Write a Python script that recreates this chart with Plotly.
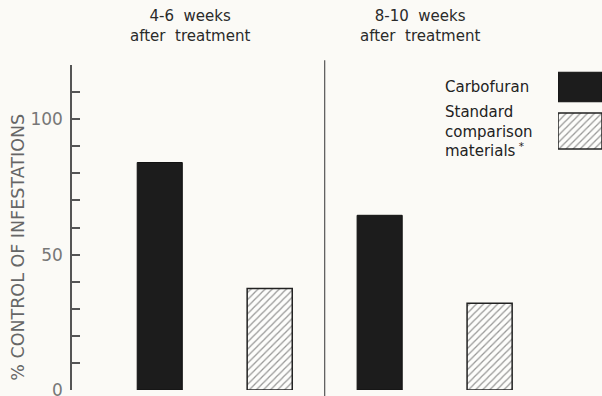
import plotly.graph_objects as go

# ---- data ----
periods = ["4-6 weeks", "8-10 weeks"]
period_titles = ["4-6\u00a0 weeks<br>after\u00a0 treatment", "8-10\u00a0 weeks<br>after\u00a0 treatment"]
carbofuran = [84, 64.5]
standard = [37.5, 32]
series_names = ["Carbofuran", "Standard comparison materials"]
legend_texts = ["Carbofuran", "Standard<br>comparison<br>materials<sup> *</sup>"]
y_tickvals = [0, 10, 20, 30, 40, 50, 60, 70, 80, 90, 100, 110, 120]
y_ticktext = ["0", " ", " ", " ", " ", "50", " ", " ", " ", " ", "100", " ", " "]
y_title = "% CONTROL OF INFESTATIONS"

BG = "#fbfaf6"
DARK = "#1c1c1c"
FONT = "DejaVu Sans"

fig = go.Figure()

bw = 0.205
fig.add_trace(go.Bar(
    x=periods, y=carbofuran, name=series_names[0],
    width=bw, offset=-0.25 - bw / 2,
    marker=dict(color=DARK, line=dict(color="#111", width=1)),
    showlegend=False, xaxis="x", yaxis="y",
))
fig.add_trace(go.Bar(
    x=periods, y=standard, name=series_names[1],
    width=bw, offset=0.25 - bw / 2,
    marker=dict(color="#fdfdfb", line=dict(color="#222", width=1.5),
                pattern=dict(shape="/", fgcolor="#333", bgcolor="#fdfdfb", size=5, solidity=0.25)),
    showlegend=False, xaxis="x", yaxis="y",
))

# legend swatches (right side, text to the left)
fig.add_trace(go.Bar(
    y=[series_names[0]], x=[1], orientation="h", width=0.67,
    marker=dict(color=DARK, line=dict(color="#111", width=1)),
    showlegend=False, xaxis="x2", yaxis="y2", hoverinfo="skip",
))
fig.add_trace(go.Bar(
    y=[series_names[1]], x=[1], orientation="h", width=0.82,
    marker=dict(color="#fdfdfb", line=dict(color="#222", width=1.5),
                pattern=dict(shape="/", fgcolor="#333", bgcolor="#fdfdfb", size=5, solidity=0.25)),
    showlegend=False, xaxis="x2", yaxis="y2", hoverinfo="skip",
))

annotations = []
# period titles
shifts = [-25, -15]
for p, t, s in zip(periods, period_titles, shifts):
    annotations.append(dict(
        x=p, xref="x", y=1.185, yref="paper", yanchor="top", xshift=s,
        text=t, showarrow=False, align="center",
        font=dict(family=FONT, size=15, color="#2a2a2a"),
    ))
# legend texts
for n, t in zip(series_names, legend_texts):
    annotations.append(dict(
        x=0, xref="x2", xshift=-115, xanchor="left",
        y=n, yref="y2", yanchor="middle",
        text=t, showarrow=False, align="left",
        font=dict(family=FONT, size=15, color="#222"),
    ))
# y-axis title
annotations.append(dict(
    x=-0.125, xref="paper", y=0.44, yref="paper",
    text=y_title, textangle=-90, showarrow=False,
    font=dict(family=FONT, size=17.5, color="#666"),
))

fig.update_layout(
    width=602, height=396,
    margin=dict(l=72, r=0, t=65, b=6, autoexpand=False),
    paper_bgcolor=BG, plot_bgcolor=BG,
    barmode="overlay",
    showlegend=False,
    annotations=annotations,
    shapes=[dict(type="line", xref="x", x0=0.5, x1=0.5, yref="paper", y0=-0.03, y1=1.015,
                 line=dict(color="#555", width=1.2))],
    xaxis=dict(visible=False, range=[-0.649, 1.761], type="category", automargin=False),
    yaxis=dict(range=[0, 120], tickvals=y_tickvals, ticktext=y_ticktext,
               ticks="inside", ticklen=8, tickwidth=1.5, tickcolor="#555",
               showline=True, linecolor="#555", linewidth=1.5,
               showgrid=False, zeroline=False, ticklabelstandoff=4, automargin=False,
               ticklabeloverflow="allow",
               tickfont=dict(family=FONT, size=17, color="#777")),
    xaxis2=dict(domain=[0.917, 1.0], range=[0, 1], visible=False, anchor="y2", automargin=False),
    yaxis2=dict(domain=[0.703, 1.0], type="category", autorange="reversed",
                visible=False, anchor="x2", automargin=False),
)

fig.write_html(
    "out.html",
    config={"displayModeBar": False},
    post_script="document.body.style.margin='0';document.body.style.background='" + BG + "';",
)
